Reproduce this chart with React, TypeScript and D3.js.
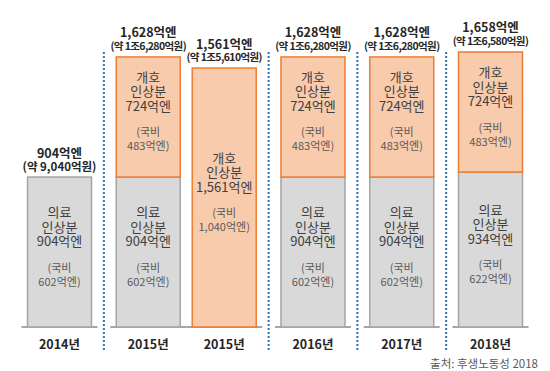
import React from 'react';
import * as d3 from 'd3';

const categories = ['2014년', '2015년', '2015년', '2016년', '2017년', '2018년'];
const groupOf = [0, 1, 1, 2, 3, 4];
const medical = [904, 904, 0, 904, 904, 934];
const nursing = [0, 724, 1561, 724, 724, 724];
const medicalNational = ['602', '602', '', '602', '602', '622'];
const nursingNational = ['', '483', '1,040', '483', '483', '483'];
const totalLabels = ['904억엔', '1,628억엔', '1,561억엔', '1,628억엔', '1,628억엔', '1,658억엔'];
const wonLabels = ['(약 9,040억원)', '(약 1조6,280억원)', '(약 1조5,610억원)', '(약 1조6,280억원)', '(약 1조6,280억원)', '(약 1조6,580억원)'];
const sourceText = '출처: 후생노동성 2018';

const W = 550, H = 371;
const FONT = "'Noto Sans CJK KR', 'Noto Sans', sans-serif";

export default function App() {
  // slot positions: bars within a group are closer than groups
  const groupGap = 1, inGroup = 0.856;
  const slots: number[] = [];
  categories.forEach((_, i) => {
    if (i === 0) slots.push(0);
    else slots.push(slots[i - 1] + (groupOf[i] === groupOf[i - 1] ? inGroup : groupGap));
  });
  const x = d3.scaleLinear().domain([0, slots[slots.length - 1]]).range([59.5, 490.5]);
  const y = d3.scaleLinear().domain([0, 1700]).range([327, 45]);
  const bw = 64;
  const dividers: number[] = [];
  for (let i = 1; i < categories.length; i++) {
    if (groupOf[i] !== groupOf[i - 1]) dividers.push((x(slots[i - 1]) + x(slots[i])) / 2);
  }

  const block = (cx: number, top: number, bottom: number, l1: string, l2: string, l3: string, n1: string, n2: string, key: string) => {
    const mid = (top + bottom) / 2 - 6;
    const first = mid - 34.5;
    const offs = [0, 14.5, 29, 55, 69];
    const lines = [l1, l2, l3, n1, n2];
    return (
      <g key={key}>
        {lines.map((t, j) => (
          <text key={j} x={cx} y={first + offs[j]} textAnchor="middle" dominantBaseline="central"
            fontSize={j < 3 ? 13 : 11} fill={j < 3 ? '#404040' : '#595959'} fontFamily={FONT}>{t}</text>
        ))}
      </g>
    );
  };

  return (
    <svg width={W} height={H} style={{ position: 'absolute', left: 0, top: 0, background: '#fff' }}>
      {dividers.map((dx, i) => (
        <line key={i} x1={dx} x2={dx} y1={52} y2={352} stroke="#2E75B6" strokeWidth={2} strokeDasharray="2,2" />
      ))}
      {categories.map((c, i) => {
        const cx = x(slots[i]);
        const x0 = cx - bw / 2;
        const medTop = y(medical[i]);
        const total = medical[i] + nursing[i];
        const top = y(total);
        return (
          <g key={i}>
            <line x1={x0 - 6} x2={x0 + bw + 6} y1={y(0)} y2={y(0)} stroke="#A6A6A6" strokeWidth={2} />
            {medical[i] > 0 && (
              <rect x={x0} y={medTop} width={bw} height={y(0) - medTop} fill="#D9D9D9" stroke="#A5A5A5" strokeWidth={1.5} />
            )}
            {nursing[i] > 0 && (
              <rect x={x0} y={top} width={bw} height={medTop - top} fill="#F8CBAD" stroke="#ED7D31" strokeWidth={1.5} />
            )}
            {medical[i] > 0 && block(cx, medTop, y(0), '의료', '인상분', `${d3.format(',')(medical[i])}억엔`, '(국비', `${medicalNational[i]}억엔)`, 'm')}
            {nursing[i] > 0 && block(cx, top, medTop, '개호', '인상분', `${d3.format(',')(nursing[i])}억엔`, '(국비', `${nursingNational[i]}억엔)`, 'n')}
            <text x={cx} y={top - 25} textAnchor="middle" dominantBaseline="central" fontSize={12.5} fontWeight="bold" fill="#262626" fontFamily={FONT}>{totalLabels[i]}</text>
            <text x={cx} y={top - 11.5} textAnchor="middle" dominantBaseline="central" fontSize={i === 0 ? 11.5 : 10.5} fontWeight="bold" fill="#262626" fontFamily={FONT}
              letterSpacing={i === 0 ? 0 : -0.6}>{wonLabels[i]}</text>
            <text x={cx} y={343} textAnchor="middle" dominantBaseline="central" fontSize={12.5} fontWeight="bold" fill="#262626" fontFamily={FONT}>{c}</text>
          </g>
        );
      })}
      <text x={538} y={363} textAnchor="end" dominantBaseline="central" fontSize={11.5} fill="#595959" fontFamily={FONT}>{sourceText}</text>
    </svg>
  );
}
